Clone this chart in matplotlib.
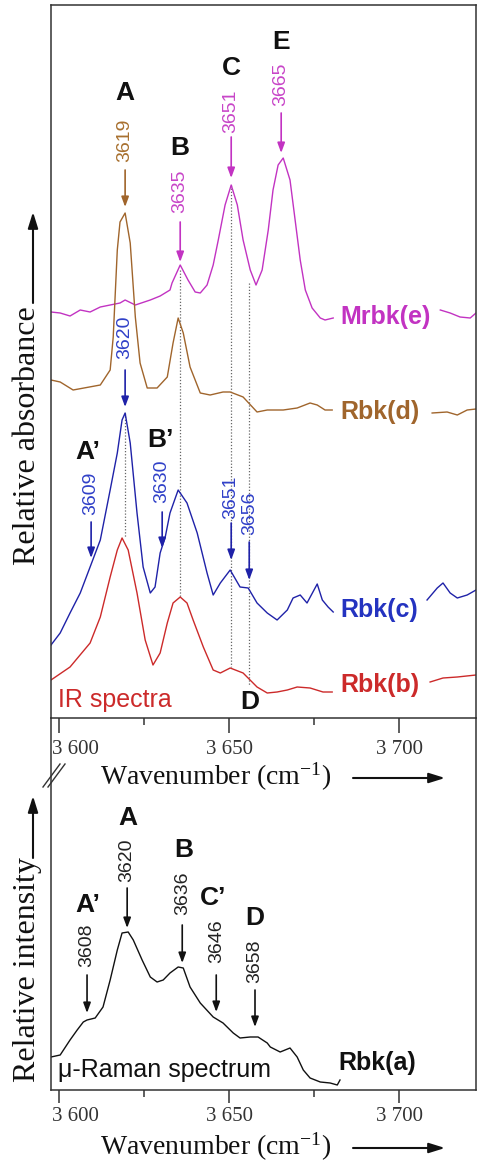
import numpy as np
import matplotlib
matplotlib.use("Agg")
from matplotlib import pyplot as plt
from matplotlib import transforms
from matplotlib.ticker import FixedLocator, FuncFormatter

# IR spectra (relative absorbance, stacked with offsets), left part and the part right of the label

mrbkWaveLeft = [3597.6, 3600.3, 3603.2, 3606.2, 3609.1, 3612.1, 3615.0, 3617.9, 3619.4, 3622.4, 3626.8,
                3629.7, 3632.6, 3633.2, 3635.6, 3637.9, 3640.0, 3641.5, 3643.5, 3645.3, 3646.8, 3648.8,
                3650.6, 3652.4, 3654.1, 3656.2, 3657.9, 3659.7, 3661.5, 3662.9, 3664.4, 3665.9, 3667.9,
                3669.4, 3670.9, 3672.4, 3674.4, 3676.8, 3678.2, 3680.6]
mrbkAbsLeft = [4.06, 4.05, 4.02, 4.08, 4.06, 4.11, 4.13, 4.15, 4.18, 4.13, 4.18, 4.22, 4.28, 4.35, 4.53,
               4.38, 4.26, 4.25, 4.33, 4.53, 4.78, 5.13, 5.33, 5.13, 4.78, 4.48, 4.33, 4.48, 4.88, 5.28,
               5.53, 5.60, 5.38, 4.98, 4.58, 4.28, 4.10, 4.00, 3.98, 4.00]
mrbkWaveRight = [3712.1, 3715.0, 3717.9, 3720.9, 3722.6]
mrbkAbsRight = [4.08, 4.05, 4.01, 4.00, 4.05]

rbkdWaveLeft = [3597.6, 3600.3, 3604.1, 3612.1, 3615.0, 3615.9, 3617.1, 3617.9, 3619.4, 3620.9, 3622.4,
                3623.8, 3625.9, 3628.8, 3631.8, 3633.5, 3635.0, 3636.5, 3638.5, 3641.5, 3644.4, 3648.2,
                3650.3, 3654.1, 3658.2, 3661.2, 3665.9, 3670.0, 3673.8, 3675.9, 3678.2, 3680.3]
rbkdAbsLeft = [3.38, 3.36, 3.28, 3.33, 3.48, 3.81, 4.68, 4.96, 5.05, 4.75, 4.01, 3.55, 3.30, 3.30, 3.41,
               3.75, 4.00, 3.85, 3.51, 3.25, 3.23, 3.26, 3.26, 3.21, 3.06, 3.08, 3.08, 3.10, 3.15, 3.13,
               3.08, 3.08]
rbkdWaveRight = [3709.7, 3714.1, 3717.1, 3720.0, 3722.6]
rbkdAbsRight = [3.05, 3.06, 3.03, 3.08, 3.09]

rbkcWaveLeft = [3597.6, 3600.3, 3603.2, 3606.2, 3609.1, 3612.1, 3615.0, 3617.1, 3618.5, 3619.4, 3620.9,
                3622.9, 3624.7, 3626.8, 3628.2, 3629.7, 3631.2, 3632.6, 3635.0, 3637.6, 3640.6, 3643.5,
                3645.3, 3647.4, 3650.3, 3653.2, 3655.6, 3658.2, 3661.2, 3664.1, 3667.1, 3668.8, 3670.9,
                3672.9, 3675.9, 3677.4, 3679.1, 3680.6]
rbkcAbsLeft = [0.73, 0.85, 1.05, 1.25, 1.51, 1.78, 2.28, 2.65, 2.98, 3.05, 2.75, 2.05, 1.51, 1.25, 1.31,
               1.65, 1.81, 2.05, 2.28, 2.15, 1.85, 1.45, 1.23, 1.35, 1.48, 1.31, 1.30, 1.15, 1.05, 0.98,
               1.08, 1.20, 1.23, 1.15, 1.34, 1.18, 1.11, 1.06]
rbkcWaveRight = [3708.2, 3711.2, 3712.9, 3715.0, 3717.1, 3720.0, 3722.6]
rbkcAbsRight = [1.18, 1.30, 1.35, 1.25, 1.20, 1.23, 1.28]

rbkbWaveLeft = [3597.6, 3603.2, 3609.1, 3612.1, 3615.0, 3617.1, 3618.5, 3620.3, 3622.9, 3625.3, 3627.6,
                3629.7, 3631.8, 3633.5, 3635.6, 3637.6, 3639.4, 3642.4, 3645.3, 3647.4, 3650.3, 3654.1,
                3658.2, 3661.2, 3664.1, 3667.1, 3670.0, 3673.8, 3677.6, 3680.3]
rbkbAbsLeft = [0.38, 0.51, 0.75, 1.01, 1.41, 1.68, 1.80, 1.68, 1.25, 0.78, 0.53, 0.65, 0.95, 1.15, 1.21,
               1.15, 0.98, 0.71, 0.48, 0.45, 0.50, 0.45, 0.31, 0.25, 0.26, 0.28, 0.31, 0.30, 0.26, 0.26]
rbkbWaveRight = [3709.1, 3712.9, 3717.1, 3722.6]
rbkbAbsRight = [0.36, 0.40, 0.41, 0.43]

# micro-Raman spectrum (relative intensity)

ramanWave = [3597.6, 3600.3, 3603.2, 3605.3, 3607.1, 3608.2, 3610.6, 3612.9, 3615.0, 3617.1, 3618.5,
             3620.3, 3621.8, 3624.4, 3626.8, 3628.8, 3630.6, 3632.6, 3635.0, 3636.5, 3638.5, 3641.5,
             3645.3, 3648.2, 3651.2, 3653.2, 3656.2, 3658.5, 3661.2, 3662.1, 3665.0, 3667.9, 3670.0,
             3671.8, 3673.8, 3676.8, 3679.7, 3681.8, 3682.6]
ramanInt = [0.33, 0.35, 0.50, 0.60, 0.68, 0.70, 0.72, 0.83, 1.10, 1.40, 1.57, 1.58, 1.50, 1.30, 1.13,
            1.08, 1.10, 1.17, 1.23, 1.22, 1.03, 0.87, 0.73, 0.67, 0.57, 0.52, 0.53, 0.53, 0.47, 0.43,
            0.38, 0.42, 0.33, 0.20, 0.12, 0.08, 0.07, 0.05, 0.10]

# Peak annotations: position, label, colour, text y, arrow start y, arrow end y

irPeaks = [(3619.4, "3619", "brown", 5.78, 5.48, 5.11),
           (3635.6, "3635", "magenta", 5.27, 4.96, 4.56),
           (3650.6, "3651", "magenta", 6.07, 5.81, 5.40),
           (3665.3, "3665", "magenta", 6.34, 6.05, 5.65),
           (3619.4, "3620", "blue", 3.81, 3.48, 3.11),
           (3609.4, "3609", "blue", 2.25, 1.96, 1.60),
           (3630.3, "3630", "blue", 2.37, 2.06, 1.70),
           (3650.6, "3651", "blue", 2.21, 1.95, 1.58),
           (3655.9, "3656", "blue", 2.05, 1.76, 1.38)]
irLetters = [(3619.4, 6.25, "A"), (3635.6, 5.70, "B"), (3650.6, 6.50, "C"), (3665.3, 6.76, "E"),
             (3608.5, 2.66, "A\u2019"), (3629.7, 2.78, "B\u2019"), (3656.2, 0.16, "D")]
irDotted = [(3619.4, 3.05, 1.81), (3635.6, 4.48, 1.21), (3650.6, 5.33, 0.51), (3655.9, 4.35, 0.33)]

ramanPeaks = [(3608.2, "3608", 1.45, 1.15, 0.77),
              (3620.0, "3620", 2.30, 2.02, 1.62),
              (3636.2, "3636", 1.97, 1.65, 1.27),
              (3646.2, "3646", 1.49, 1.15, 0.78),
              (3657.6, "3658", 1.29, 1.00, 0.63)]
ramanLetters = [(3608.5, 1.85, "A\u2019"), (3620.3, 2.72, "A"), (3636.5, 2.40, "B"),
                (3645.3, 1.92, "C\u2019"), (3657.6, 1.72, "D")]

tickValues = [3600, 3650, 3700]
minorTickValues = [3625, 3675]

colours = {"magenta": "#c233c2", "brown": "#a0652c", "blue": "#1f22a8", "red": "#cc2a2a",
           "black": "#111111"}
textColours = {"magenta": "#c845c8", "brown": "#a8702f", "blue": "#3040c8"}

sansFont = "Liberation Sans"
serifFont = "Liberation Serif"
plt.rcParams["mathtext.fontset"] = "stix"

W, H = 478, 1163
def fx(px): return px / W
def fy(py): return 1 - py / H

fig = plt.figure(figsize=(W / 100, H / 100), dpi=100)
axTop = fig.add_axes([fx(51), fy(718), fx(476) - fx(51), fy(5) - fy(718)])
axBot = fig.add_axes([fx(51), fy(1090), fx(476) - fx(51), fy(718) - fy(1090)])
axBot.patch.set_visible(False)


def styleAxis(ax, ymax, tickLen, pad):
    ax.set_xlim(3597.6, 3722.6)
    ax.set_ylim(0, ymax)
    ax.set_yticks([])
    ax.xaxis.set_major_locator(FixedLocator(tickValues))
    ax.xaxis.set_minor_locator(FixedLocator(minorTickValues))
    ax.xaxis.set_major_formatter(FuncFormatter(lambda v, _: "{} {:03d}".format(int(v) // 1000, int(v) % 1000)))
    ax.tick_params(axis="x", which="major", direction="out", length=tickLen, width=1.1,
                   pad=pad, labelsize=15, colors="#333333")
    ax.tick_params(axis="x", which="minor", direction="out", length=5, width=1.1, colors="#333333")
    for lab in ax.get_xticklabels():
        lab.set_fontfamily(serifFont)
    first = ax.get_xticklabels()[0]
    first.set_ha("left")
    first.set_transform(first.get_transform() + transforms.ScaledTranslation(-7 / 100, 0, fig.dpi_scale_trans))
    for s in ax.spines.values():
        s.set_linewidth(1.1)
        s.set_color("#333333")


styleAxis(axTop, 7.13, 11, 5)
styleAxis(axBot, 3.72, 9, 3)
axBot.spines["top"].set_visible(False)

# IR spectra

lw = 1.0
for wl, al, wr, ar, key in [(mrbkWaveLeft, mrbkAbsLeft, mrbkWaveRight, mrbkAbsRight, "magenta"),
                            (rbkdWaveLeft, rbkdAbsLeft, rbkdWaveRight, rbkdAbsRight, "brown"),
                            (rbkcWaveLeft, rbkcAbsLeft, rbkcWaveRight, rbkcAbsRight, "blue"),
                            (rbkbWaveLeft, rbkbAbsLeft, rbkbWaveRight, rbkbAbsRight, "red")]:
    axTop.plot(wl, al, color=colours[key], lw=lw)
    axTop.plot(wr, ar, color=colours[key], lw=lw)

for w, y0, y1 in irDotted:
    axTop.plot([w, w], [y0, y1], color="#666666", lw=0.9, ls=(0, (1, 1.5)), zorder=1)

arrowStyle = "-|>,head_length=0.6,head_width=0.22"
for w, txt, key, ty, ya, yb in irPeaks:
    axTop.text(w, ty, txt, rotation=90, ha="center", va="center", fontsize=14,
               family=sansFont, color=textColours[key])
    axTop.annotate("", xy=(w, yb), xytext=(w, ya),
                   arrowprops=dict(arrowstyle=arrowStyle, color=colours[key], lw=1.2,
                                   mutation_scale=10, shrinkA=0, shrinkB=0))
for w, y, txt in irLetters:
    axTop.text(w, y, txt, ha="center", va="center", fontsize=19, family=sansFont,
               weight="bold", color="#111111")

labelX = 3682.6
for y, txt, key in [(4.01, "Mrbk(e)", "magenta"), (3.06, "Rbk(d)", "brown"),
                    (1.08, "Rbk(c)", "blue"), (0.33, "Rbk(b)", "red")]:
    axTop.text(labelX, y, txt, ha="left", va="center", fontsize=18, family=sansFont,
               weight="bold", color=colours[key] if key != "blue" else "#2433c0")
axTop.text(3599.7, 0.18, "IR spectra", ha="left", va="center", fontsize=18,
           family=sansFont, color="#cc2a2a")

# Raman spectrum

axBot.plot(ramanWave, ramanInt, color=colours["black"], lw=lw)
for w, txt, ty, ya, yb in ramanPeaks:
    axBot.text(w, ty, txt, rotation=90, ha="center", va="center", fontsize=14,
               family=sansFont, color="#222222")
    axBot.annotate("", xy=(w, yb), xytext=(w, ya),
                   arrowprops=dict(arrowstyle=arrowStyle, color="#111111", lw=1.2,
                                   mutation_scale=10, shrinkA=0, shrinkB=0))
for w, y, txt in ramanLetters:
    axBot.text(w, y, txt, ha="center", va="center", fontsize=19, family=sansFont,
               weight="bold", color="#111111")
axBot.text(3599.7, 0.20, "\u03bc-Raman spectrum", ha="left", va="center", fontsize=18,
           family=sansFont, color="#111111")
axBot.text(3682.1, 0.27, "Rbk(a)", ha="left", va="center", fontsize=18, family=sansFont,
           weight="bold", color="#111111")

# Axis titles with arrows, drawn in figure coordinates

bigArrow = dict(arrowstyle="-|>,head_length=0.8,head_width=0.25", color="#111111", lw=1.5,
                mutation_scale=12, shrinkA=0, shrinkB=0)
for py in [777, 1147]:
    fig.text(fx(100), fy(py), r"Wavenumber (cm$^{\mathregular{-1}}$)", ha="left", va="center",
             fontsize=20, family=serifFont, color="#111111")
    axTop.annotate("", xy=(fx(445), fy(py + 1)), xytext=(fx(353), fy(py + 1)), xycoords="figure fraction",
                   textcoords="figure fraction", arrowprops=bigArrow, annotation_clip=False)

fig.text(fx(28), fy(436), "Relative absorbance", rotation=90, ha="center", va="center",
         fontsize=23, family=serifFont, color="#111111")
axTop.annotate("", xy=(fx(33), fy(212)), xytext=(fx(33), fy(303)), xycoords="figure fraction",
               textcoords="figure fraction", arrowprops=bigArrow, annotation_clip=False)
fig.text(fx(28), fy(970), "Relative intensity", rotation=90, ha="center", va="center",
         fontsize=23, family=serifFont, color="#111111")
axTop.annotate("", xy=(fx(33), fy(796)), xytext=(fx(33), fy(858)), xycoords="figure fraction",
               textcoords="figure fraction", arrowprops=bigArrow, annotation_clip=False)

# Axis break mark on the left spine

for dx in [0, 5]:
    fig.add_artist(plt.Line2D([fx(43 + dx), fx(60 + dx)], [fy(787), fy(764)], color="#333333", lw=1.0))

fig.savefig("out.png", dpi=100)
